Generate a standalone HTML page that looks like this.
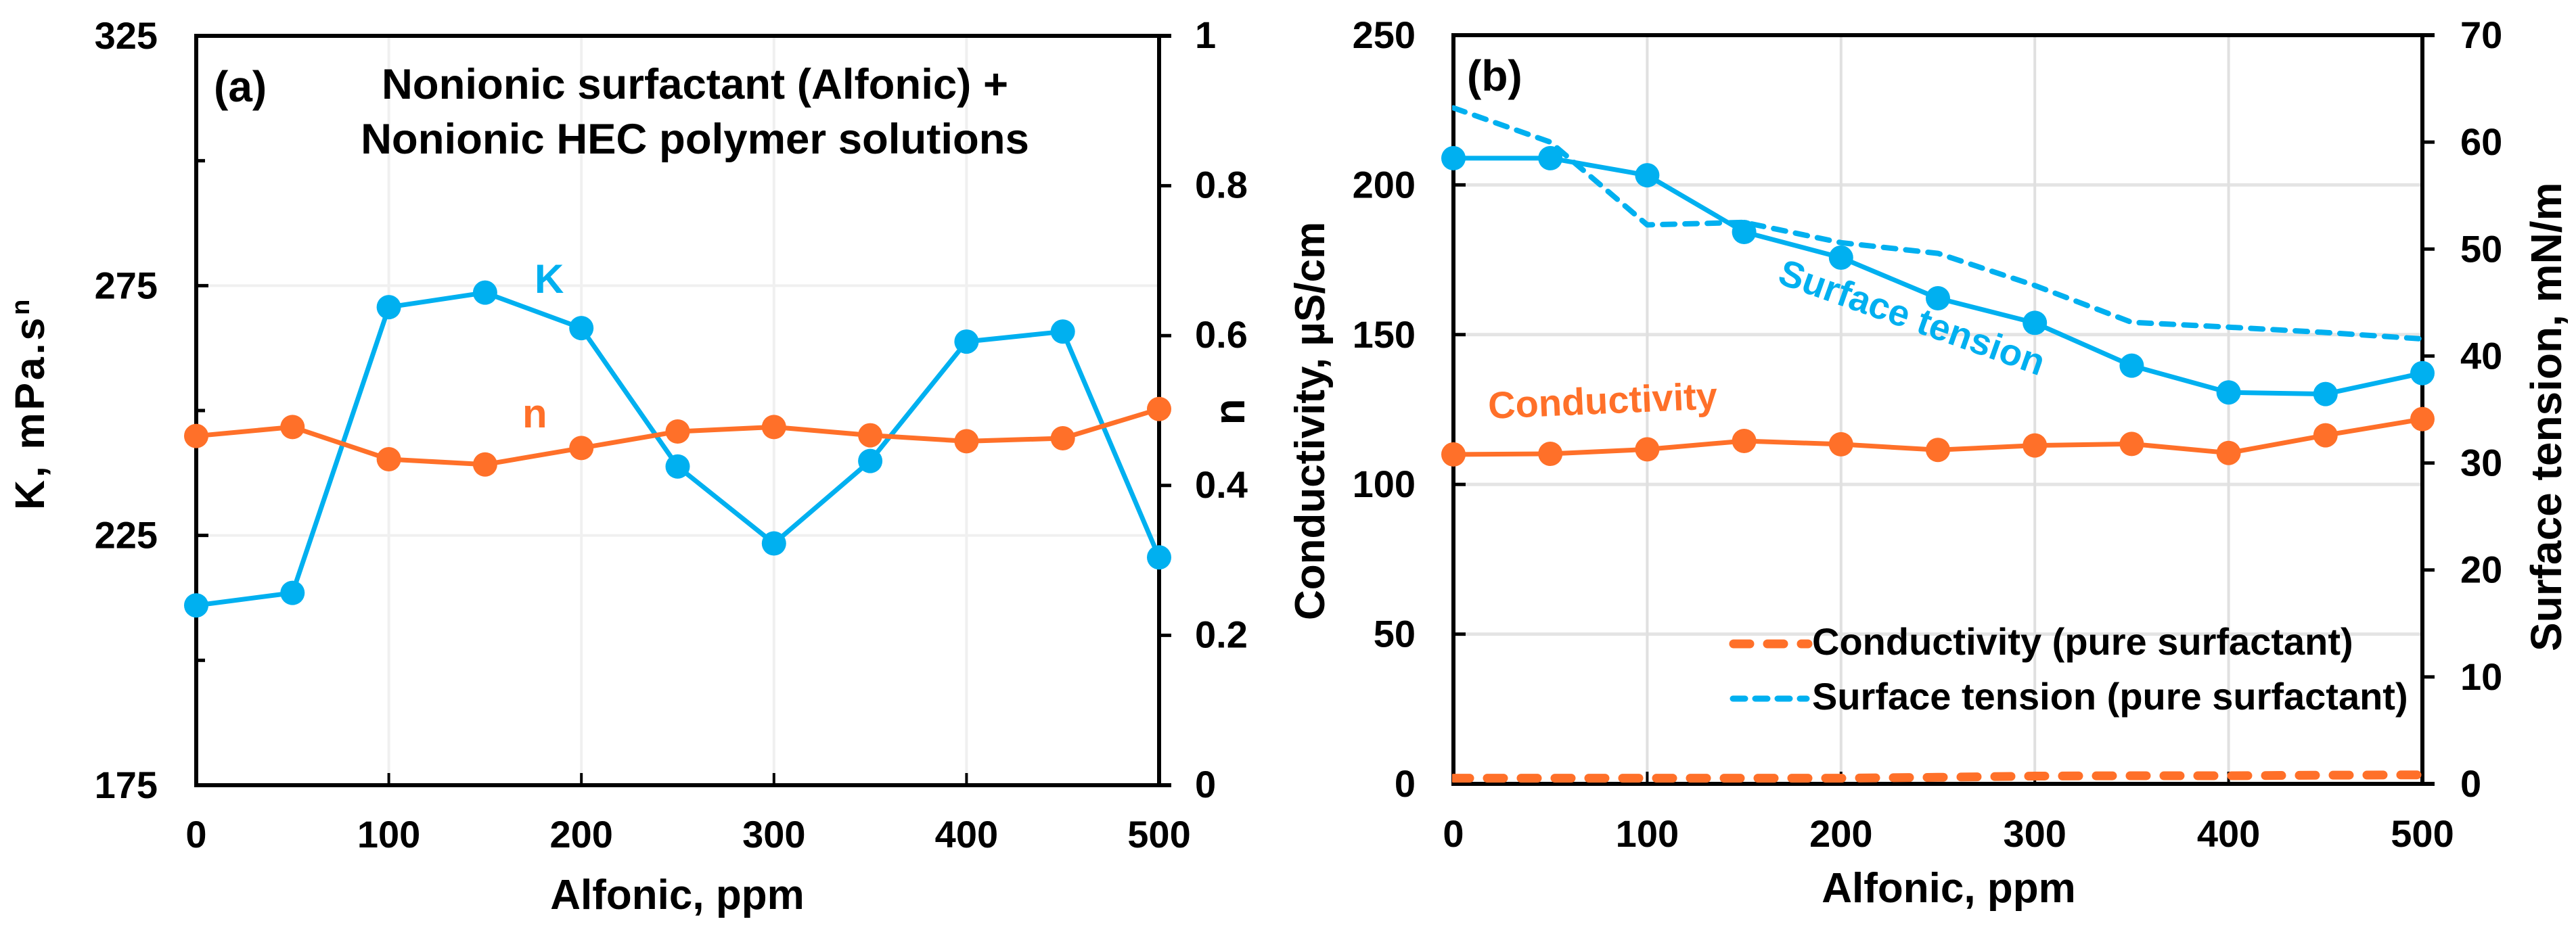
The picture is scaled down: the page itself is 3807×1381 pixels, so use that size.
<!DOCTYPE html>
<html lang="en">
<head>
<meta charset="utf-8">
<title>Alfonic surfactant charts</title>
<style>
html,body{margin:0;padding:0;background:#fff;width:3807px;height:1381px;overflow:hidden}
svg{display:block}
text{font-family:"Liberation Sans",Arial,sans-serif;font-weight:700;fill:#000}
</style>
</head>
<body>
<svg id="fig" xmlns="http://www.w3.org/2000/svg" width="3807" height="1381" viewBox="0 0 3807 1381">
  <rect x="0" y="0" width="3807" height="1381" fill="#ffffff"/>
  <defs><clipPath id="clipB"><rect x="2146" y="40" width="1436" height="1130"/></clipPath></defs>
  <g id="panelA"></g>
  <g id="panelB"></g>

  <text x="316" y="150" font-size="64">(a)</text>
  <text x="1027" y="146" font-size="63.5" text-anchor="middle">Nonionic surfactant (Alfonic) +</text>
  <text x="1027" y="227" font-size="63.5" text-anchor="middle">Nonionic HEC polymer solutions</text>
  <text x="790" y="433" font-size="60" style="fill:#00b0f0">K</text>
  <text x="772" y="632" font-size="60" style="fill:#ff7029">n</text>
  <text x="1001" y="1344" font-size="62" text-anchor="middle">Alfonic, ppm</text>
  <text transform="translate(65 754) rotate(-90)" font-size="61" letter-spacing="3.8">K, mPa.s<tspan font-size="38" dy="-22">n</tspan></text>
  <text transform="translate(1839 609) rotate(-90)" font-size="64" text-anchor="middle">n</text>

  <text x="2168" y="134" font-size="64">(b)</text>
  <text transform="translate(2200 619) rotate(-2.5)" font-size="56" style="fill:#ff7029">Conductivity</text>
  <text transform="translate(2625 418) rotate(19.5)" font-size="55" style="fill:#00b0f0">Surface tension</text>
  <text x="2880" y="1334" font-size="62" text-anchor="middle">Alfonic, ppm</text>
  <text transform="translate(1957 917) rotate(-90)" font-size="62">Conductivity, µS/cm</text>
  <text transform="translate(3785 963) rotate(-90)" font-size="64">Surface tension, mN/m</text>

  <g>
    <line x1="2562" y1="952" x2="2672" y2="952" stroke="#ff7029" stroke-width="13" stroke-linecap="round" stroke-dasharray="24 26"/>
    <text x="2678" y="968" font-size="56">Conductivity (pure surfactant)</text>
    <line x1="2561" y1="1033" x2="2670" y2="1033" stroke="#00b0f0" stroke-width="9" stroke-linecap="round" stroke-dasharray="18 15"/>
    <text x="2678" y="1049" font-size="56">Surface tension (pure surfactant)</text>
  </g>
</svg>
<script>
// ---- data ----
const ppm = [0,50,100,150,200,250,300,350,400,450,500];
const kValues = [211,213.5,270.7,273.6,266.5,238.8,223.4,239.9,263.8,265.8,220.6];
const nValues = [0.466,0.478,0.435,0.428,0.45,0.472,0.478,0.467,0.459,0.463,0.502];
const conductivity = [110,110.2,111.7,114.5,113.4,111.5,113,113.5,110.5,116.4,121.8];
const surfaceTension = [58.5,58.5,56.9,51.6,49.2,45.4,43.1,39.1,36.6,36.45,38.4];
const pureConductivity = [1.9,1.9,1.9,1.9,1.9,2.2,2.6,2.7,2.7,2.9,3];
const pureSurfaceTension = [63.2,60,52.26,52.5,50.6,49.6,46.6,43.15,42.7,42.2,41.6];
const xTicks = [0,100,200,300,400,500];
const kTicks = [175,225,275,325];
const kMinorTicks = [200,250,300];
const nTicks = [0,0.2,0.4,0.6,0.8,1];
const condTicks = [0,50,100,150,200,250];
const stTicks = [0,10,20,30,40,50,60,70];

// ---- axis functions ----
const linear = (d0,d1,r0,r1) => v => r0 + (v-d0)/(d1-d0)*(r1-r0);
const xA = linear(0,500,290,1713);
const yK = linear(175,325,1161,53);
const yN = linear(0,1,1161,53);
const xB = linear(0,500,2148,3580);
const yC = linear(0,250,1159,52);
const yS = linear(0,70,1159,52);

const NS = 'http://www.w3.org/2000/svg';
const BLUE = '#00b0f0', ORANGE = '#ff7029';
function make(parent, tag, attrs, txt){
  const el = document.createElementNS(NS, tag);
  for (const k in attrs) el.setAttribute(k, attrs[k]);
  if (txt !== undefined) el.textContent = txt;
  parent.appendChild(el);
  return el;
}
function seg(parent, x1, y1, x2, y2, color, w){
  return make(parent, 'line', {x1, y1, x2, y2, stroke: color, 'stroke-width': w});
}
function label(parent, x, y, txt, anchor){
  return make(parent, 'text', {x, y, 'font-size': 56, 'text-anchor': anchor}, txt);
}
function series(parent, xs, ys, xf, yf, color, w, extra){
  const pts = xs.map((v,i) => xf(v).toFixed(1) + ',' + yf(ys[i]).toFixed(1)).join(' ');
  return make(parent, 'polyline', Object.assign({points: pts, fill: 'none', stroke: color, 'stroke-width': w, 'stroke-linejoin': 'round'}, extra || {}));
}
function marker(parent, x, y, color){
  return make(parent, 'circle', {cx: x, cy: y, r: 18, fill: color});
}

// ---- panel (a) ----
const A = document.getElementById('panelA');
[275,225].forEach(v => {
  const el = seg(A, 290, yK(v), 1713, yK(v), '#f0f0f0', 4);
  
  
});
xTicks.slice(1,-1).forEach(v => {
  const el = seg(A, xA(v), 53, xA(v), 1161, '#f0f0f0', 4);
  
  
});
kTicks.forEach(v => {
  const t = seg(A, 290, yK(v), 308, yK(v), '#000', 5);
  
  
  const l = label(A, 233, yK(v) + 19, String(v), 'end');
  
  
});
kMinorTicks.forEach(v => {
  const t = seg(A, 290, yK(v), 303, yK(v), '#000', 5);
  
  
});
nTicks.forEach(v => {
  const t = seg(A, 1713, yN(v), 1731, yN(v), '#000', 5);
  
  
  const l = label(A, 1766, yN(v) + 18, String(v), 'start');
  
  
});
xTicks.forEach(v => {
  const t = seg(A, xA(v), 1161, xA(v), 1143, '#000', 4);
  
  
  const l = label(A, xA(v), 1253, String(v), 'middle');
  
  
});
const spineA = make(A, 'path', {d: 'M290 50V1164M287 53H1731M1713 50V1161M287 1161H1731', fill: 'none', stroke: '#000', 'stroke-width': 6});



const kLine = series(A, ppm, kValues, xA, yK, BLUE, 7);


ppm.forEach((v,i) => {
  const m = marker(A, xA(v), yK(kValues[i]), BLUE);
  
  
});
const nLine = series(A, ppm, nValues, xA, yN, ORANGE, 7);


ppm.forEach((v,i) => {
  const m = marker(A, xA(v), yN(nValues[i]), ORANGE);
  
  
});

// ---- panel (b) ----
const B = document.getElementById('panelB');
condTicks.slice(1,-1).forEach(v => {
  const el = seg(B, 2148, yC(v), 3580, yC(v), '#e4e4e4', 5);
  
  
});
xTicks.slice(1,-1).forEach(v => {
  const el = seg(B, xB(v), 52, xB(v), 1159, '#e0e0e0', 4);
  
  
});
condTicks.forEach(v => {
  const t = seg(B, 2148, yC(v), 2166, yC(v), '#000', 5);
  
  
  const l = label(B, 2092, yC(v) + 19, String(v), 'end');
  
  
});
stTicks.forEach(v => {
  const t = seg(B, 3580, yS(v), 3598, yS(v), '#000', 5);
  
  
  const l = label(B, 3636, yS(v) + 19, String(v), 'start');
  
  
});
xTicks.forEach(v => {
  const t = seg(B, xB(v), 1159, xB(v), 1141, '#000', 4);
  
  
  const l = label(B, xB(v), 1252, String(v), 'middle');
  
  
});
const spineB = make(B, 'path', {d: 'M2148 49V1162M2145 52H3598M3580 49V1159M2145 1159H3598', fill: 'none', stroke: '#000', 'stroke-width': 6});



const pureStLine = series(B, ppm, pureSurfaceTension, xB, yS, BLUE, 8, {'stroke-dasharray': '18 15', 'stroke-linecap': 'round', 'clip-path': 'url(#clipB)'});


const stLine = series(B, ppm, surfaceTension, xB, yS, BLUE, 7);


ppm.forEach((v,i) => {
  const m = marker(B, xB(v), yS(surfaceTension[i]), BLUE);
  
  
});
const condLine = series(B, ppm, conductivity, xB, yC, ORANGE, 7);


ppm.forEach((v,i) => {
  const m = marker(B, xB(v), yC(conductivity[i]), ORANGE);
  
  
});
const pureCondLine = series(B, ppm, pureConductivity, xB, yC, ORANGE, 13, {'stroke-dasharray': '24 26', 'stroke-linecap': 'round', 'clip-path': 'url(#clipB)'});


</script>
</body>
</html>
